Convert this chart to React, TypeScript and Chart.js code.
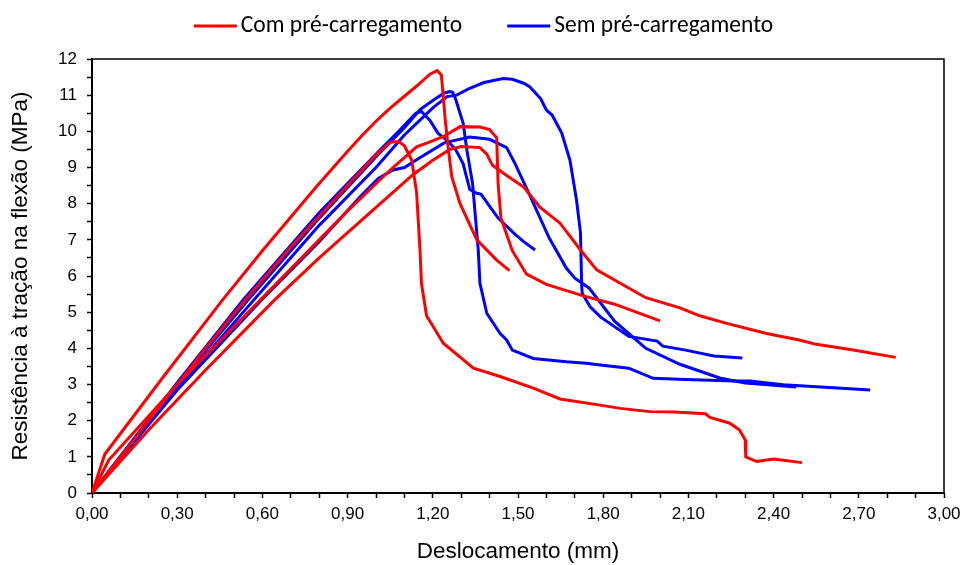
import React, { useEffect, useRef } from "react";
import { Chart, registerables } from "chart.js";

Chart.register(...registerables);

// ---- Data (x = Deslocamento em mm, y = Resistência em MPa) ----
const seriesLabels = ["Com pré-carregamento", "Sem pré-carregamento"];
const seriesColors = ["#FF0000", "#0000FF"];

// Com pré-carregamento (vermelho)
const com1X = [0, 0.045, 0.25, 0.46, 0.6, 0.79, 0.9, 0.95, 1.0, 1.05, 1.1, 1.15, 1.19, 1.215, 1.23, 1.236, 1.243, 1.255, 1.267, 1.296, 1.355, 1.425, 1.47];
const com1Y = [0, 1.07, 3.2, 5.34, 6.7, 8.47, 9.45, 9.88, 10.28, 10.64, 10.97, 11.3, 11.58, 11.68, 11.56, 11.06, 10.38, 9.48, 8.74, 8.0, 7.0, 6.44, 6.15];

const com2X = [0, 0.2, 0.4, 0.525, 0.7, 0.9, 1.0, 1.05, 1.08, 1.1, 1.126, 1.143, 1.155, 1.16, 1.178, 1.237, 1.343, 1.437, 1.554, 1.648, 1.789, 1.86, 1.965, 2.05, 2.16, 2.176, 2.246, 2.28, 2.3, 2.302, 2.34, 2.4, 2.5];
const com2Y = [0, 2.0, 4.0, 5.2, 6.8, 8.5, 9.35, 9.7, 9.72, 9.6, 9.2, 8.3, 6.7, 5.8, 4.9, 4.14, 3.45, 3.22, 2.9, 2.6, 2.43, 2.34, 2.25, 2.24, 2.19, 2.09, 1.93, 1.74, 1.47, 1.0, 0.87, 0.94, 0.84];

const com3X = [0, 0.059, 0.3, 0.6, 0.9, 1.05, 1.143, 1.19, 1.236, 1.296, 1.366, 1.4, 1.425, 1.43, 1.44, 1.48, 1.53, 1.6, 1.73, 1.84, 2.0];
const com3Y = [0, 0.91, 3.0, 5.4, 7.8, 8.93, 9.57, 9.71, 9.85, 10.13, 10.12, 10.05, 9.82, 8.53, 7.6, 6.7, 6.05, 5.77, 5.45, 5.22, 4.76];

const com4X = [0, 0.2, 0.4, 0.643, 0.8, 1.0, 1.13, 1.2, 1.26, 1.3, 1.366, 1.39, 1.41, 1.46, 1.52, 1.577, 1.648, 1.72, 1.777, 1.86, 1.95, 2.07, 2.14, 2.235, 2.375, 2.49, 2.55, 2.67, 2.83];
const com4Y = [0, 1.75, 3.4, 5.34, 6.5, 7.9, 8.8, 9.2, 9.5, 9.58, 9.55, 9.37, 9.06, 8.78, 8.46, 7.9, 7.46, 6.72, 6.17, 5.8, 5.4, 5.12, 4.9, 4.69, 4.41, 4.23, 4.11, 3.97, 3.75];

// Sem pré-carregamento (azul)
const sem1X = [0, 0.3, 0.532, 0.8, 1.014, 1.08, 1.14, 1.16, 1.19, 1.218, 1.249, 1.28, 1.307, 1.32, 1.33, 1.35, 1.37, 1.43, 1.49, 1.52, 1.56];
const sem1Y = [0, 3.05, 5.34, 7.75, 9.48, 10.0, 10.5, 10.55, 10.3, 9.95, 9.76, 9.5, 9.1, 8.7, 8.4, 8.3, 8.26, 7.6, 7.15, 6.95, 6.72];

const sem2X = [0, 0.3, 0.55, 0.8, 1.0, 1.1, 1.155, 1.2, 1.24, 1.26, 1.27, 1.28, 1.307, 1.32, 1.34, 1.35, 1.36, 1.366, 1.39, 1.437, 1.46, 1.48, 1.554, 1.67, 1.74, 1.79, 1.89, 1.976, 2.09, 2.26, 2.317, 2.434, 2.61, 2.74];
const sem2Y = [0, 3.0, 5.34, 7.6, 9.3, 10.1, 10.6, 10.85, 11.06, 11.1, 11.08, 10.9, 10.22, 9.48, 8.56, 7.64, 6.72, 5.8, 4.97, 4.41, 4.23, 3.95, 3.72, 3.63, 3.59, 3.54, 3.45, 3.17, 3.14, 3.1, 3.1, 2.99, 2.91, 2.85];

const sem3X = [0, 0.3, 0.57, 0.8, 1.0, 1.1, 1.2, 1.25, 1.284, 1.33, 1.38, 1.448, 1.48, 1.52, 1.542, 1.58, 1.6, 1.62, 1.654, 1.683, 1.706, 1.72, 1.724, 1.726, 1.754, 1.79, 1.89, 1.99, 2.01, 2.09, 2.19, 2.29];
const sem3Y = [0, 2.9, 5.34, 7.4, 9.0, 9.9, 10.65, 10.96, 11.0, 11.19, 11.35, 11.46, 11.44, 11.33, 11.23, 10.9, 10.59, 10.45, 9.95, 9.2, 8.1, 7.2, 5.8, 5.52, 5.15, 4.87, 4.33, 4.2, 4.06, 3.95, 3.79, 3.73];

const sem4X = [0, 0.3, 0.597, 0.8, 0.944, 1.008, 1.06, 1.1, 1.15, 1.24, 1.33, 1.4, 1.46, 1.49, 1.54, 1.61, 1.67, 1.7, 1.75, 1.84, 1.95, 2.07, 2.21, 2.3, 2.48];
const sem4Y = [0, 2.85, 5.34, 6.95, 8.19, 8.7, 8.93, 9.0, 9.25, 9.68, 9.84, 9.78, 9.55, 9.1, 8.26, 7.05, 6.22, 5.94, 5.67, 4.75, 4.0, 3.56, 3.18, 3.04, 2.93];

const curves = [
  { group: 0, xs: com1X, ys: com1Y },
  { group: 0, xs: com2X, ys: com2Y },
  { group: 0, xs: com3X, ys: com3Y },
  { group: 0, xs: com4X, ys: com4Y },
  { group: 1, xs: sem1X, ys: sem1Y },
  { group: 1, xs: sem2X, ys: sem2Y },
  { group: 1, xs: sem3X, ys: sem3Y },
  { group: 1, xs: sem4X, ys: sem4Y },
];

const xMin = 0;
const xMax = 3;
const xStep = 0.1;
const yMin = 0;
const yMax = 12;
const yStep = 0.5;

const xTitle = "Deslocamento (mm)";
const yTitle = "Resistência à tração na flexão (MPa)";

const AXIS_FONT = "'Liberation Sans', Arial, sans-serif";
const LEGEND_FONT = "Carlito, 'Liberation Sans Narrow', 'Open Sans', sans-serif";

const framePlugin = {
  id: "frame",
  afterDraw(chart: any) {
    const { ctx, chartArea } = chart;
    ctx.save();
    ctx.strokeStyle = "#000";
    ctx.lineWidth = 1.5;
    ctx.beginPath();
    ctx.moveTo(chartArea.left, chartArea.top);
    ctx.lineTo(chartArea.right, chartArea.top);
    ctx.lineTo(chartArea.right, chartArea.bottom);
    ctx.stroke();
    ctx.restore();
  },
};

const legendPlugin = {
  id: "customLegend",
  afterDraw(chart: any) {
    const ctx = chart.ctx;
    ctx.save();
    ctx.font = `23.5px ${LEGEND_FONT}`;
    ctx.textBaseline = "middle";
    ctx.textAlign = "left";
    const lineLen = 43;
    const textGap = 4;
    const itemGap = 45;
    const widths = seriesLabels.map((l) => ctx.measureText(l).width);
    const total = widths.reduce((a, w) => a + lineLen + textGap + w, 0) + itemGap * (seriesLabels.length - 1);
    let x = chart.width / 2 - total / 2;
    const y = 26;
    seriesLabels.forEach((label, i) => {
      ctx.strokeStyle = seriesColors[i];
      ctx.lineWidth = 3;
      ctx.beginPath();
      ctx.moveTo(x, y);
      ctx.lineTo(x + lineLen, y);
      ctx.stroke();
      ctx.fillStyle = "#000";
      ctx.fillText(label, x + lineLen + textGap, y);
      x += lineLen + textGap + widths[i] + itemGap;
    });
    ctx.restore();
  },
};

export default function App() {
  const canvasRef = useRef<HTMLCanvasElement | null>(null);

  useEffect(() => {
    if (!canvasRef.current) return;
    const datasets = curves.map((c, i) => ({
      label: seriesLabels[c.group] + " " + i,
      data: c.xs.map((x, k) => ({ x, y: c.ys[k] })),
      borderColor: seriesColors[c.group],
      backgroundColor: seriesColors[c.group],
      borderWidth: 3,
      pointRadius: 0,
      tension: 0,
      fill: false,
      showLine: true,
    }));

    const chart = new Chart(canvasRef.current, {
      type: "scatter",
      data: { datasets },
      options: {
        animation: false,
        responsive: false,
        devicePixelRatio: 1,
        layout: { padding: { top: 59, right: 23, left: 0, bottom: 0 } },
        plugins: {
          legend: { display: false },
          tooltip: { enabled: false },
        },
        scales: {
          x: {
            type: "linear",
            min: xMin,
            max: xMax,
            afterFit: (scale: any) => {
              scale.height = 72;
            },
            ticks: {
              stepSize: xStep,
              autoSkip: false,
              maxRotation: 0,
              padding: 6,
              color: "#000",
              font: { family: AXIS_FONT, size: 17 },
              callback: (v: any) => {
                const n = Math.round(Number(v) * 10);
                return n % 3 === 0 ? (n / 10).toFixed(2).replace(".", ",") : "";
              },
            },
            grid: {
              drawOnChartArea: false,
              drawTicks: true,
              tickLength: 5,
              tickWidth: 1.5,
              tickColor: "#000",
            },
            border: { color: "#000", width: 2 },
            title: {
              display: true,
              text: xTitle,
              color: "#000",
              font: { family: AXIS_FONT, size: 22.5 },
              padding: { top: 4, bottom: 0 },
            },
          },
          y: {
            type: "linear",
            min: yMin,
            max: yMax,
            afterFit: (scale: any) => {
              scale.width = 92;
            },
            ticks: {
              stepSize: yStep,
              autoSkip: false,
              padding: 10,
              color: "#000",
              font: { family: AXIS_FONT, size: 17 },
              callback: (v: any) => (Number.isInteger(Number(v)) ? String(v) : ""),
            },
            grid: {
              drawOnChartArea: false,
              drawTicks: true,
              tickLength: 5,
              tickWidth: 1.5,
              tickColor: "#000",
            },
            border: { color: "#000", width: 2 },
            title: {
              display: true,
              text: yTitle,
              color: "#000",
              font: { family: AXIS_FONT, size: 22.5 },
              padding: { top: 7, bottom: 0 },
            },
          },
        },
      },
      plugins: [framePlugin, legendPlugin],
    } as any);

    return () => chart.destroy();
  }, []);

  return (
    <div style={{ position: "absolute", left: 0, top: 0, width: 967, height: 565, background: "#fff" }}>
      <canvas ref={canvasRef} width={967} height={565} />
    </div>
  );
}
